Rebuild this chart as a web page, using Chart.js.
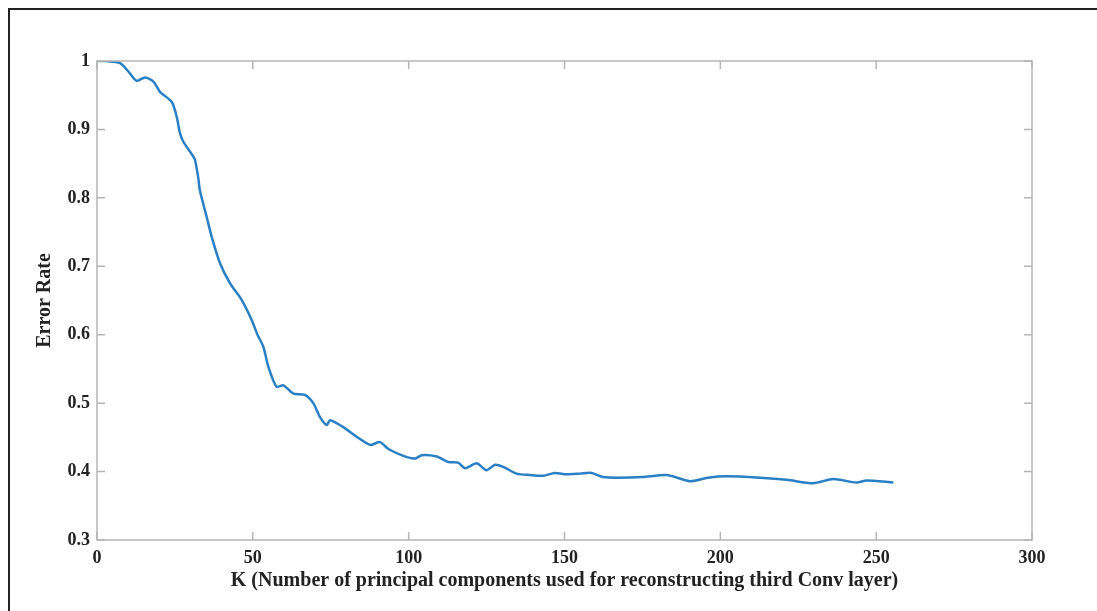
<!DOCTYPE html>
<html>
<head>
<meta charset="utf-8">
<script src="https://cdn.jsdelivr.net/npm/chart.js@4/dist/chart.umd.min.js"></script>
<style>
  html, body { margin: 0; padding: 0; background: #fff; }
  #wrap { position: relative; width: 1097px; height: 611px; }
  #frame { position: absolute; left: 8px; top: 8px; width: 1100px; height: 620px;
           border-top: 2px solid #222; border-left: 2px solid #222; pointer-events: none; }
</style>
</head>
<body>
<div id="wrap">
  <canvas id="errChart" width="1097" height="611"></canvas>
  <div id="frame"></div>
</div>
<script>
    // K values and error rate
    let kValues = [0, 3, 7.4, 10, 12.7, 15.4, 18.1, 20.2, 24, 25.6, 26.6, 27.7, 30.4, 31.4, 32.5, 33.0,
        35.2, 36.8, 39.5, 42.7, 46.4, 49.6, 51.5, 53.4, 55, 57.6, 59.8, 63, 66.7, 69.4, 71.5, 73.7,
        74.8, 79, 83.3, 87.6, 90.8, 93.5, 98.3, 102, 104.2, 109, 112.7, 115.9, 118.1, 121.8, 125,
        127.7, 130.3, 134.6, 138.9, 143.2, 146.9, 150.7, 155, 158.7, 162.4, 167.5, 175, 182.8,
        190.2, 196, 202, 212.7, 221.3, 229.8, 236.2, 243.7, 246.9, 255.5];
    let errorRate = [1.0, 1.0, 0.997, 0.985, 0.971, 0.976, 0.970, 0.955, 0.940, 0.918, 0.895, 0.882,
        0.864, 0.856, 0.829, 0.811, 0.772, 0.743, 0.704, 0.675, 0.651, 0.622, 0.600, 0.582, 0.553,
        0.524, 0.526, 0.514, 0.512, 0.500, 0.480, 0.468, 0.475, 0.465, 0.451, 0.439, 0.443, 0.433,
        0.423, 0.419, 0.424, 0.422, 0.414, 0.413, 0.405, 0.412, 0.402, 0.410, 0.407, 0.397, 0.395,
        0.394, 0.398, 0.396, 0.397, 0.398, 0.392, 0.391, 0.392, 0.395, 0.386, 0.391, 0.393, 0.391,
        0.388, 0.383, 0.389, 0.384, 0.387, 0.384];
    let xTicks = [0, 50, 100, 150, 200, 250, 300];
    let yTicks = [0.3, 0.4, 0.5, 0.6, 0.7, 0.8, 0.9, 1];

    let points = kValues.map((k, i) => ({ x: k, y: errorRate[i] }));

    // MATLAB style box with inward ticks
    let boxPlugin = {
        id: 'boxTicks',
        afterDraw(chart) {
            let c = chart.ctx, a = chart.chartArea;
            let sx = chart.scales.x, sy = chart.scales.y;
            c.save();
            c.strokeStyle = '#b5b5b5';
            c.lineWidth = 1.5;
            c.strokeRect(a.left, a.top, a.right - a.left, a.bottom - a.top);
            c.beginPath();
            xTicks.forEach(v => {
                let px = sx.getPixelForValue(v);
                c.moveTo(px, a.bottom); c.lineTo(px, a.bottom - 8);
                c.moveTo(px, a.top); c.lineTo(px, a.top + 8);
            });
            yTicks.forEach(v => {
                let py = sy.getPixelForValue(v);
                c.moveTo(a.left, py); c.lineTo(a.left + 8, py);
                c.moveTo(a.right, py); c.lineTo(a.right - 8, py);
            });
            c.stroke();
            c.restore();
        }
    };

    let tickFont = { family: 'Liberation Serif', size: 18, weight: 'bold' };
    let titleFont = { family: 'Liberation Serif', size: 20, weight: 'bold' };

    let ctx = document.getElementById('errChart').getContext('2d');
    let errChart = new Chart(ctx, {
        type: 'line',
        data: {
            datasets: [{
                label: 'Error Rate',
                data: points,
                borderColor: '#2a80c4',
                borderWidth: 2.5,
                pointRadius: 0,
                tension: 0.25,
                fill: false
            }]
        },
        options: {
            responsive: false,
            animation: false,
            layout: { padding: { left: 0, top: 61, right: 65, bottom: 0 } },
            plugins: { legend: { display: false }, tooltip: { enabled: false } },
            scales: {
                x: {
                    type: 'linear',
                    min: 0, max: 300,
                    afterFit(scale) { scale.height = 71; },
                    afterBuildTicks(scale) { scale.ticks = xTicks.map(v => ({ value: v })); },
                    grid: { display: false, drawTicks: false },
                    border: { display: false },
                    ticks: { font: tickFont, color: '#222', padding: 8, maxRotation: 0 },
                    title: {
                        display: true,
                        text: 'K (Number of principal components used for reconstructing third Conv layer)',
                        font: titleFont, color: '#222',
                        padding: { top: 0, bottom: 18 }
                    }
                },
                y: {
                    type: 'linear',
                    min: 0.3, max: 1,
                    afterFit(scale) { scale.width = 97; },
                    afterBuildTicks(scale) { scale.ticks = yTicks.map(v => ({ value: v })); },
                    grid: { display: false, drawTicks: false },
                    border: { display: false },
                    ticks: {
                        font: tickFont, color: '#222', padding: 7,
                        callback: v => String(Math.round(v * 10) / 10)
                    },
                    title: {
                        display: true,
                        text: 'Error Rate',
                        font: titleFont, color: '#222',
                        padding: { top: 33, bottom: 0 }
                    }
                }
            }
        },
        plugins: [boxPlugin]
    });
</script>
</body>
</html>
